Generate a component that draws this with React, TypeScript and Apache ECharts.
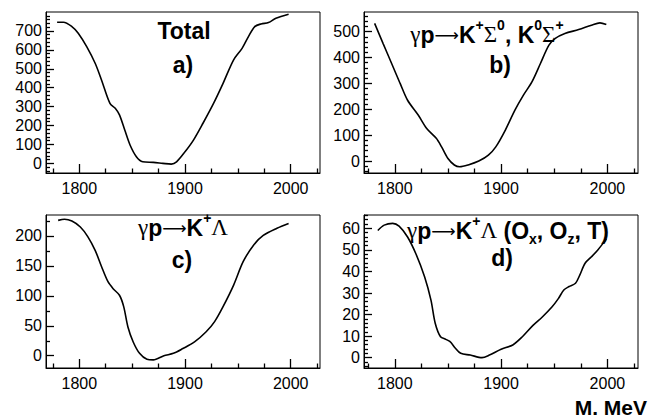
import React, { useEffect, useRef } from "react";
import * as echarts from "echarts";

// ---- data ----
const xTickLabels = [1800, 1900, 2000];
const xMinorTicks = [1775, 1825, 1850, 1875, 1925, 1950, 1975, 2025];

const yTicksA = [0, 100, 200, 300, 400, 500, 600, 700];
const yTicksB = [0, 100, 200, 300, 400, 500];
const yTicksC = [0, 50, 100, 150, 200];
const yTicksD = [0, 10, 20, 30, 40, 50, 60];

const massA = [1779, 1785, 1793, 1799, 1807, 1815, 1821, 1829, 1834, 1838, 1843, 1848, 1854, 1860, 1870, 1879, 1887, 1892, 1900, 1908, 1917, 1927, 1936, 1946, 1954, 1960, 1966, 1972, 1979, 1986, 1998];
const totalA = [746, 746, 723, 688, 617, 529, 441, 317, 291, 256, 176, 97, 35, 8, 5, 0, -4, 8, 61, 123, 212, 317, 423, 547, 608, 670, 723, 737, 744, 767, 788];

const massB = [1781, 1789, 1797, 1805, 1812, 1822, 1830, 1839, 1844, 1850, 1856, 1861, 1869, 1879, 1888, 1895, 1904, 1913, 1921, 1929, 1937, 1945, 1951, 1960, 1973, 1985, 1993, 1999];
const sigmaB = [532, 454, 377, 300, 235, 178, 126, 88, 55, 10, -15, -22, -15, 0, 23, 55, 120, 197, 255, 306, 377, 448, 474, 493, 508, 525, 534, 528];

const massC = [1780, 1786, 1793, 1801, 1808, 1815, 1821, 1827, 1832, 1838, 1842, 1846, 1851, 1857, 1864, 1870, 1880, 1889, 1898, 1909, 1920, 1928, 1936, 1946, 1955, 1965, 1974, 1987, 1998];
const lambdaC = [226, 228, 225, 215, 199, 176, 149, 124, 112, 101, 82, 48, 23, 4, -6, -7, 0, 4, 12, 23, 40, 57, 82, 118, 157, 185, 201, 213, 221];

const massD = [1784, 1790, 1798, 1804, 1812, 1820, 1828, 1834, 1838, 1843, 1848, 1852, 1857, 1862, 1871, 1882, 1889, 1900, 1911, 1920, 1930, 1939, 1948, 1954, 1959, 1964, 1970, 1974, 1979, 1985, 1991, 1999];
const polD = [59, 61.5, 62.3, 61, 56, 48, 37.5, 26.7, 16, 9.7, 8.5, 7.4, 4.4, 2, 1.2, 0, 1.2, 3.9, 5.9, 9.7, 15, 19, 23.6, 27.5, 31.4, 33, 34.5, 38.3, 43.8, 46.8, 50, 55];

const SANS = "Liberation Sans, Arial, Helvetica, sans-serif";
const SERIF = "Liberation Serif, Times New Roman, serif";
const ARROWF = "DejaVu Sans, sans-serif";

function range(a: number, b: number, s: number, skip: number[]) {
  const out: number[] = [];
  for (let v = a; v <= b + 1e-9; v += s) {
    const r = Math.round(v * 100) / 100;
    if (!skip.includes(r)) out.push(r);
  }
  return out;
}

type Panel = {
  grid: { left: number; top: number; width: number; height: number };
  xmin: number; xmax: number; ymin: number; ymax: number;
  yMajor: number[]; yMinor: number[];
  xs: number[]; ys: number[];
};

const panels: Panel[] = [
  { grid: { left: 46, top: 12, width: 274, height: 161 }, xmin: 1768.5, xmax: 2027.7, ymin: -51, ymax: 800,
    yMajor: yTicksA, yMinor: range(-40, 780, 20, yTicksA), xs: massA, ys: totalA },
  { grid: { left: 364, top: 12, width: 274, height: 161 }, xmin: 1771, xmax: 2028.8, ymin: -46, ymax: 576,
    yMajor: yTicksB, yMinor: range(-40, 560, 20, yTicksB), xs: massB, ys: sigmaB },
  { grid: { left: 46, top: 215, width: 274, height: 153 }, xmin: 1768.5, xmax: 2027.7, ymin: -20.5, ymax: 235,
    yMajor: yTicksC, yMinor: range(25, 225, 25, yTicksC), xs: massC, ys: lambdaC },
  { grid: { left: 364, top: 215, width: 274, height: 153 }, xmin: 1771, xmax: 2028.8, ymin: -4.8, ymax: 66.2,
    yMajor: yTicksD, yMinor: range(-4, 66, 2, yTicksD), xs: massD, ys: polD },
];

const labelStyle = { fontFamily: SANS, fontSize: 16, color: "#000", formatter: (v: number) => String(v) };

const richStyles = {
  b: { fontFamily: SANS, fontSize: 23, fontWeight: "bold", color: "#000", lineHeight: 28, verticalAlign: "bottom" },
  g: { fontFamily: SERIF, fontSize: 23, fontWeight: "normal", color: "#000", lineHeight: 28, verticalAlign: "bottom" },
  a: { fontFamily: ARROWF, fontSize: 17, fontWeight: "normal", color: "#000", lineHeight: 28, verticalAlign: "bottom", padding: [0, 0, 3, 0] },
  sup: { fontFamily: SANS, fontSize: 14, fontWeight: "bold", color: "#000", lineHeight: 16, verticalAlign: "top" },
  sub: { fontFamily: SANS, fontSize: 14, fontWeight: "bold", color: "#000", lineHeight: 14, verticalAlign: "bottom", padding: [0, 0, -4, 0] },
};

function titleText(x: number, y: number, text: string) {
  return {
    type: "text",
    x, y,
    style: { text, rich: richStyles, align: "center", verticalAlign: "middle", fill: "#000" },
  };
}

export default function App() {
  const ref = useRef<HTMLDivElement>(null);
  useEffect(() => {
    if (!ref.current) return;
    const chart = echarts.init(ref.current, undefined, { renderer: "svg" });
    const grid: any[] = [];
    const xAxis: any[] = [];
    const yAxis: any[] = [];
    const series: any[] = [];
    panels.forEach((p, i) => {
      grid.push({ ...p.grid, show: true, borderColor: "#000", borderWidth: 1, backgroundColor: "transparent" });
      xAxis.push({
        type: "value", gridIndex: i, position: "bottom", min: p.xmin, max: p.xmax,
        axisLine: { show: true, onZero: false, lineStyle: { color: "#000", width: 1 } },
        axisTick: { show: true, inside: true, length: 9, customValues: xTickLabels, lineStyle: { color: "#000", width: 1.3 } },
        axisLabel: { show: true, customValues: xTickLabels, margin: 7, ...labelStyle },
        splitLine: { show: false },
      });
      xAxis.push({
        type: "value", gridIndex: i, position: "bottom", min: p.xmin, max: p.xmax,
        axisLine: { show: false, onZero: false },
        axisTick: { show: true, inside: true, length: 4.5, customValues: xMinorTicks, lineStyle: { color: "#000", width: 1.3 } },
        axisLabel: { show: false },
        splitLine: { show: false },
      });
      yAxis.push({
        type: "value", gridIndex: i, position: "left", min: p.ymin, max: p.ymax,
        axisLine: { show: true, onZero: false, lineStyle: { color: "#000", width: 1 } },
        axisTick: { show: true, inside: true, length: 8, customValues: p.yMajor, lineStyle: { color: "#000", width: 1.3 } },
        axisLabel: { show: true, customValues: p.yMajor, margin: 4, ...labelStyle },
        splitLine: { show: false },
      });
      yAxis.push({
        type: "value", gridIndex: i, position: "left", min: p.ymin, max: p.ymax,
        axisLine: { show: false, onZero: false },
        axisTick: { show: true, inside: true, length: 4, customValues: p.yMinor, lineStyle: { color: "#000", width: 1.3 } },
        axisLabel: { show: false },
        splitLine: { show: false },
      });
      series.push({
        type: "line", xAxisIndex: 2 * i, yAxisIndex: 2 * i,
        data: p.xs.map((x, k) => [x, p.ys[k]]),
        showSymbol: false, smooth: 0.3,
        lineStyle: { color: "#000", width: 1.6 },
        silent: true,
      });
    });

    chart.setOption({
      animation: false,
      backgroundColor: "#fff",
      grid, xAxis, yAxis, series,
      graphic: [
        titleText(184, 28, "{b|Total}"),
        titleText(183, 62, "{b|a)}"),
        titleText(487, 32, "{g|γ}{b|p}{a|⟶}{b|K}{sup|+}{g|Σ}{sup|0}{b|, K}{sup|0}{g|Σ}{sup|+}"),
        titleText(500, 62, "{b|b)}"),
        titleText(183, 225, "{g|γ}{b|p}{a|⟶}{b|K}{sup|+}{g|Λ}"),
        titleText(182, 257, "{b|c)}"),
        titleText(508, 228, "{g|γ}{b|p}{a|⟶}{b|K}{sup|+}{g|Λ}{b| (O}{sub|x}{b|, O}{sub|z}{b|, T)}"),
        titleText(502, 255, "{b|d)}"),
        {
          type: "text", x: 647, y: 418,
          style: { text: "M. MeV", font: `bold 21px ${SANS}`, fill: "#000", align: "right", verticalAlign: "bottom" },
        },
      ],
    });
    return () => chart.dispose();
  }, []);
  return <div ref={ref} style={{ position: "fixed", left: 0, top: 0, width: 650, height: 418 }} />;
}
